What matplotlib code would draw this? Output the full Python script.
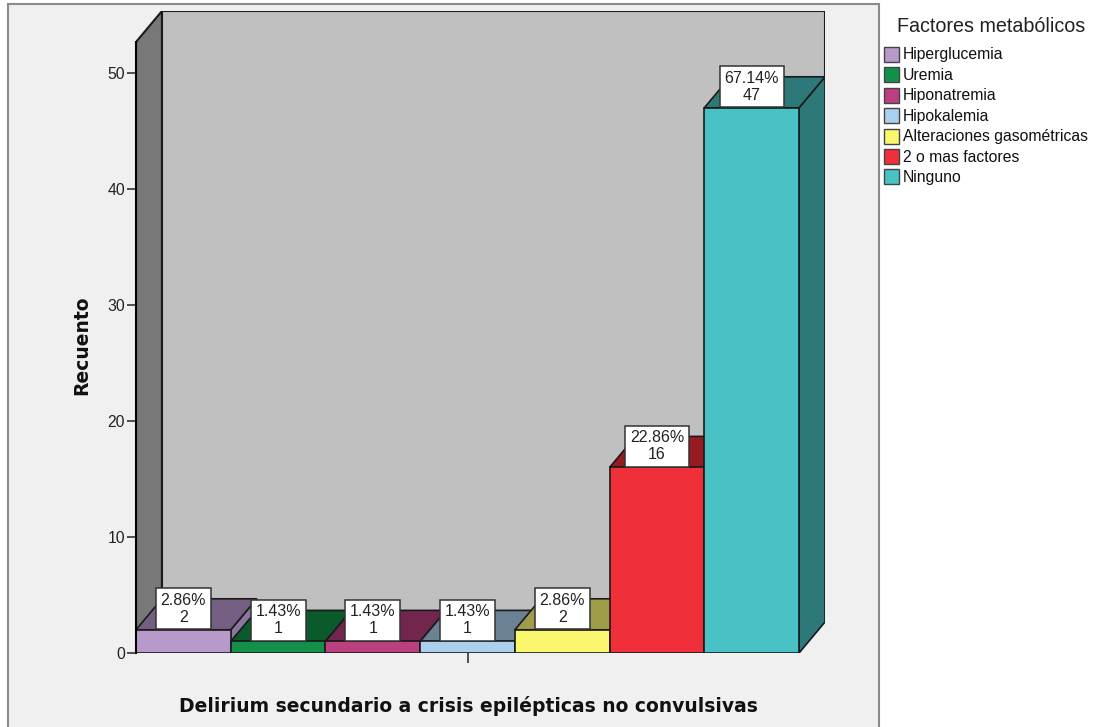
import matplotlib
matplotlib.use("Agg")
import matplotlib.pyplot as plt
from matplotlib.patches import Polygon, Rectangle

# ---------------- data ----------------
categories = ["Hiperglucemia", "Uremia", "Hiponatremia", "Hipokalemia",
              "Alteraciones gasométricas", "2 o mas factores", "Ninguno"]
counts = [2, 1, 1, 1, 2, 16, 47]
percents = [2.86, 1.43, 1.43, 1.43, 2.86, 22.86, 67.14]
yticks = [0, 10, 20, 30, 40, 50]
front_colors = ["#B89ACA", "#12904A", "#BC3F7F", "#ABD0EE", "#FAF66E", "#F03039", "#48C2C5"]
top_colors = ["#745F82", "#0A5A2C", "#73264D", "#6B8194", "#A09D48", "#951B20", "#2D7878"]
side_colors = ["#8B76A0", "#0B6A35", "#8A2E5C", "#7F99AE", "#BDB955", "#B0232A", "#2D7878"]
xlabel = "Delirium secundario a crisis epilépticas no convulsivas"
ylabel = "Recuento"
legend_title = "Factores metabólicos"

# ---------------- layout (pixels) ----------------
W, H = 1101, 727
fig = plt.figure(figsize=(W / 100, H / 100), dpi=100, facecolor="white")

def fx(x):
    return x / W

def fy(y):
    return 1 - y / H

# outer chart frame
fig.add_artist(Rectangle((fx(8), fy(740)), fx(879) - fx(8), fy(4) - fy(740),
                         transform=fig.transFigure, facecolor="#F0F0F0",
                         edgecolor="#8A8A8A", lw=1.5, zorder=0))

X0, X1, YZ, YT = 136, 825, 653, 11      # axes pixel box (front-left to back-right)
ax = fig.add_axes([fx(X0), fy(YZ), fx(X1) - fx(X0), fy(YT) - fy(YZ)])
ax.set_facecolor("none")

n = len(counts)
px_per_unit = 11.6
DY = 31 / px_per_unit                    # depth offset in data units (y)
cat_px = (800 - X0) / n
DX = 26 / cat_px                         # depth offset in data units (x)
ytop = (YZ - 42) / px_per_unit
ax.set_xlim(0, n + DX)
ax.set_ylim(0, ytop + DY)

EC = "#1a1a1a"
# left wall
ax.add_patch(Polygon([(0, 0), (0, ytop), (DX, ytop + DY), (DX, DY)],
                     closed=True, facecolor="#787878", edgecolor=EC, lw=1.5, zorder=1))
# back wall
ax.add_patch(Polygon([(DX, DY), (n + DX, DY), (n + DX, ytop + DY), (DX, ytop + DY)],
                     closed=True, facecolor="#C0C0C0", edgecolor=EC, lw=1.5, zorder=1))

# bars
for i, v in enumerate(counts):
    z = 2 + i * 0.01
    ax.add_patch(Polygon([(i + 1, 0), (i + 1 + DX, DY), (i + 1 + DX, v + DY), (i + 1, v)],
                         closed=True, facecolor=side_colors[i], edgecolor=EC, lw=1.2, zorder=z))
    ax.add_patch(Polygon([(i, v), (i + 1, v), (i + 1 + DX, v + DY), (i + DX, v + DY)],
                         closed=True, facecolor=top_colors[i], edgecolor=EC, lw=1.2, zorder=z))
    ax.add_patch(Rectangle((i, 0), 1, v, facecolor=front_colors[i], edgecolor=EC,
                           lw=1.2, zorder=z))

# data labels
LBL_FS = 11.5
LBL_PAD = 0.29
for i, (v, p) in enumerate(zip(counts, percents)):
    ax.annotate(f"{p:.2f}%\n{v}", xy=(i + 0.5, v),
                xytext=(0, LBL_PAD * LBL_FS * 100 / 72 + 0.5), textcoords="offset pixels",
                ha="center", va="bottom", fontsize=LBL_FS, family="Liberation Sans",
                color="#222222", linespacing=1.17, zorder=10,
                bbox=dict(boxstyle=f"square,pad={LBL_PAD}", facecolor="white",
                          edgecolor="#333333", lw=1.1))

# axes styling
for s in ["top", "right", "bottom"]:
    ax.spines[s].set_visible(False)
ax.spines["left"].set_bounds(0, ytop)
ax.spines["left"].set_linewidth(1.5)
ax.spines["left"].set_zorder(3)
ax.set_yticks(yticks)
ax.set_yticklabels([str(t) for t in yticks], family="Liberation Sans", fontsize=11.3,
                   color="#222222")
ax.tick_params(axis="y", direction="out", length=6.5, width=1.1, pad=1.5, color="#222222")
ax.set_xticks([n / 2])
ax.set_xticklabels([""])
ax.tick_params(axis="x", direction="out", length=7.5, width=1.1, color="#222222")

# axis titles
fig.text(fx(82), fy(345), ylabel, rotation=90, ha="center", va="center",
         fontsize=13.5, fontweight="bold", family="DejaVu Sans", color="#111111")
fig.text(fx(468), fy(706), xlabel, ha="center", va="center",
         fontsize=13.5, fontweight="bold", family="DejaVu Sans", color="#111111")

# legend
fig.text(fx(897), fy(26), legend_title, ha="left", va="center",
         fontsize=14.2, family="Liberation Sans", color="#222222")
for k, (lab, col) in enumerate(zip(categories, front_colors)):
    yc = 55 + k * 20.4
    fig.add_artist(Rectangle((fx(884), fy(yc + 7)), fx(15), fy(0) - fy(15),
                             transform=fig.transFigure, facecolor=col,
                             edgecolor="#444444", lw=1.0))
    fig.text(fx(903), fy(yc), lab, ha="left", va="center", fontsize=11.3,
             family="Liberation Sans", color="#111111")

fig.savefig("out.png", dpi=100, facecolor="white")
